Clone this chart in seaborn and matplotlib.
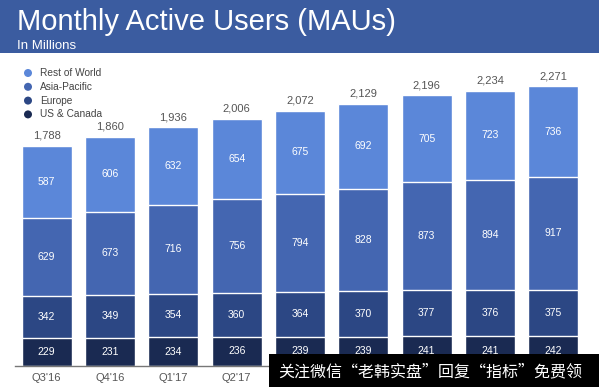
import matplotlib.pyplot as plt
import matplotlib.patches as mpatches
import numpy as np
import pandas as pd
import seaborn as sns

quarters = ["Q3'16", "Q4'16", "Q1'17", "Q2'17", "Q3'17", "Q4'17", "Q1'18", "Q2'18", "Q3'18"]
us_canada = [229, 231, 234, 236, 239, 239, 241, 241, 242]
europe = [342, 349, 354, 360, 364, 370, 377, 376, 375]
asia_pacific = [629, 673, 716, 756, 794, 828, 873, 894, 917]
rest_of_world = [587, 606, 632, 654, 675, 692, 705, 723, 736]
totals = [1788, 1860, 1936, 2006, 2072, 2129, 2196, 2234, 2271]

regions = ['Rest of World', 'Asia-Pacific', 'Europe', 'US & Canada']
colors = {'Rest of World': '#5b87d9', 'Asia-Pacific': '#4466b1',
          'Europe': '#2c4784', 'US & Canada': '#1a2a52'}

df = pd.DataFrame({'quarter': quarters, 'US & Canada': us_canada, 'Europe': europe,
                   'Asia-Pacific': asia_pacific, 'Rest of World': rest_of_world})
# cumulative heights, bottom layer first
stack = ['US & Canada', 'Europe', 'Asia-Pacific', 'Rest of World']
cum = df[stack].cumsum(axis=1)

plt.rcParams['font.family'] = ['Liberation Sans', 'DejaVu Sans']
fig = plt.figure(figsize=(5.99, 3.87), dpi=100)
ax = fig.add_axes([15 / 599, 21 / 387, 570 / 599, 308 / 387])

# draw the tallest (cumulative) bars first, then overlay smaller ones
for name in stack[::-1]:
    sns.barplot(x=df['quarter'], y=cum[name], color=colors[name], width=0.79,
                edgecolor='white', linewidth=1.0, saturation=1, ax=ax)

ax.set_xlim(-0.5, 8.5)
ax.set_ylim(0, 2500)
ax.set_xlabel('')
ax.set_ylabel('')
ax.set_yticks([])
for s in ['top', 'right', 'left']:
    ax.spines[s].set_visible(False)
ax.spines['bottom'].set_color('#777777')
ax.spines['bottom'].set_linewidth(1.0)
ax.tick_params(axis='x', length=0, pad=5, labelsize=8, labelcolor='#555555')

# segment labels
for i in range(len(quarters)):
    base = 0
    for name in stack:
        v = df[name][i]
        ax.text(i, base + v / 2, f'{v}', ha='center', va='center', color='white', fontsize=7.5)
        base += v
    ax.text(i, totals[i] + 40, f'{totals[i]:,}', ha='center', va='bottom', color='#555555', fontsize=8)

# header band
fig.patches.append(mpatches.Rectangle((0, 1 - 53 / 387), 1, 53 / 387, transform=fig.transFigure,
                                      facecolor='#3b5ca0', edgecolor='none', zorder=0))
fig.text(17 / 599, 1 - 22 / 387, 'Monthly Active Users (MAUs)', color='white', fontsize=21,
         va='center', ha='left')
fig.text(17 / 599, 1 - 46 / 387, 'In Millions', color='white', fontsize=9.5, va='center', ha='left')

# legend
for k, name in enumerate(regions):
    y = 1 - (73 + k * 13.8) / 387
    fig.patches.append(mpatches.Ellipse((28 / 599, y), 8 / 599, 8 / 387, transform=fig.transFigure,
                                        facecolor=colors[name], edgecolor='none'))
    fig.text(40 / 599, y, name, color='#444444', fontsize=7.3, va='center', ha='left')

# watermark box
fig.patches.append(mpatches.Rectangle((269 / 599, 0), 330 / 599, 33 / 387, transform=fig.transFigure,
                                      facecolor='black', edgecolor='none', zorder=5))
fig.text(278 / 599, 15 / 387, '关注微信“老韩实盘”回复“指标”免费领', color='white', fontsize=11.5,
         va='center', ha='left', family=['Noto Sans CJK SC', 'DejaVu Sans'], zorder=6)

fig.savefig('out.png', dpi=100)
